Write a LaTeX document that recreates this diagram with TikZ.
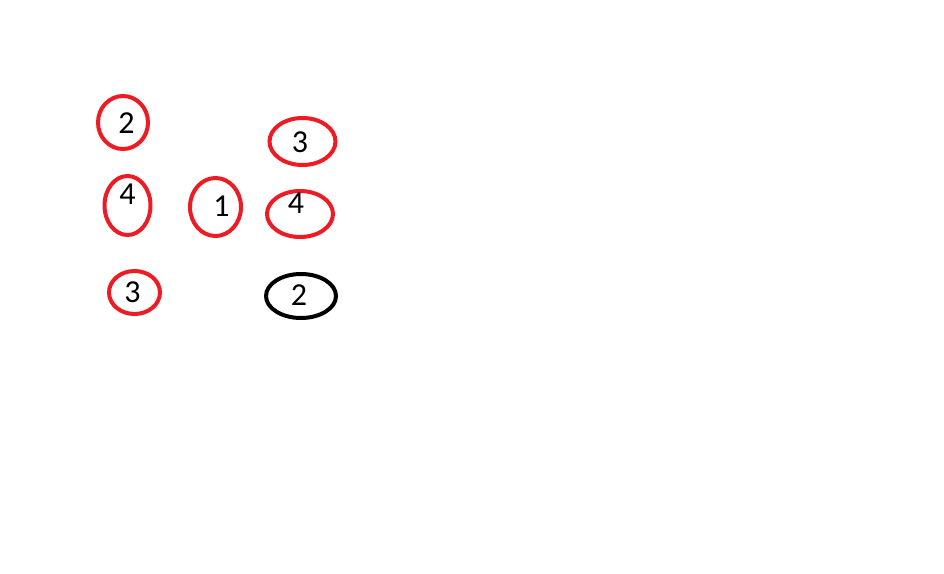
\documentclass[tikz,border=0pt]{standalone}
\usepackage{fontspec}
\setmainfont{Carlito}
\definecolor{paintred}{RGB}{237,28,36}
\tikzset{
  ring/.style={draw=paintred, line width=4pt},
  blackring/.style={draw=black, line width=4pt},
  digit/.style={font=\fontsize{32}{36}\selectfont, text=black, inner sep=0pt}
}
\begin{document}
\begin{tikzpicture}[x=1pt,y=-1pt]
\useasboundingbox (0,0) rectangle (944,573);
\path[fill=white] (0,0) rectangle (944,573);
% ellipses
\draw[ring] (123,122.5) ellipse [x radius=25, y radius=26.5];
\draw[ring] (302.5,141.5) ellipse [x radius=33, y radius=23.5];
\draw[ring] (127.5,205.5) ellipse [x radius=23, y radius=29.5];
\draw[ring] (215.5,207) ellipse [x radius=25.5, y radius=29];
\draw[ring] (300,214) ellipse [x radius=33, y radius=23];
\draw[ring] (134.5,292.5) ellipse [x radius=25.5, y radius=21.5];
\draw[blackring] (301,296) ellipse [x radius=35, y radius=22];
% labels
\node[digit] (t2a) at (126.5,123) {2};
\node[digit] (t3a) at (300,142) {3};
\node[digit] (t4a) at (127.5,194) {4};
\node[digit] (t1) at (221.5,206) {1};
\node[digit] (t4b) at (296,203) {4};
\node[digit] (t3b) at (132.5,292) {3};
\node[digit] (t2b) at (299,295) {2};
\end{tikzpicture}
\end{document}
